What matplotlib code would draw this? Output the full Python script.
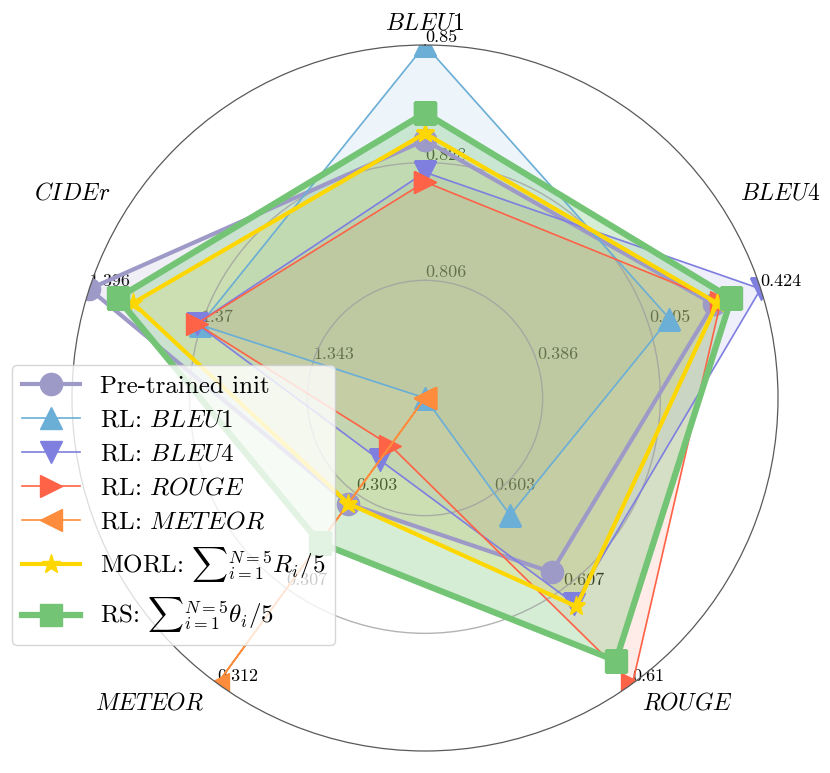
import numpy as np
import matplotlib
matplotlib.use("Agg")
import matplotlib.pyplot as plt

plt.rcParams['font.family'] = 'serif'
plt.rcParams['font.serif'] = ['cmr10']
plt.rcParams['mathtext.fontset'] = 'cm'
plt.rcParams['axes.unicode_minus'] = False
plt.rcParams['axes.formatter.use_mathtext'] = True

# axes of the radar, clockwise from the top
metrics = ["BLEU1", "BLEU4", "ROUGE", "METEOR", "CIDEr"]
axis_min = [0.784, 0.367, 0.600, 0.2982, 1.3168]
axis_max = [0.850, 0.424, 0.610, 0.312, 1.396]

# scores per model
pretrained = [0.8322, 0.4160, 0.6061, 0.3033, 1.396]
rl_bleu1 = [0.850, 0.4085, 0.6041, 0.2982, 1.3699]
rl_bleu4 = [0.8262, 0.424, 0.6072, 0.3012, 1.3707]
rl_rouge = [0.8244, 0.4172, 0.610, 0.3005, 1.3707]
rl_meteor = [0.784, 0.367, 0.600, 0.312, 1.3168]
morl = [0.8335, 0.4166, 0.6073, 0.3033, 1.3857]
rs = [0.8373, 0.4190, 0.6092, 0.3052, 1.3893]

labels = ["Pre-trained init", r"RL: $BLEU1$", r"RL: $BLEU4$", r"RL: $ROUGE$",
          r"RL: $METEOR$", r"MORL: ${\sum}_{i=1}^{N=5} R_i/5$",
          r"RS: ${\sum}_{i=1}^{N=5} \theta_i/5$"]
series = [pretrained, rl_bleu1, rl_bleu4, rl_rouge, rl_meteor, morl, rs]
colors = ["#9e9ac8", "#6baed6", "#7f7fe0", "tomato", "#fd8d3c", "gold", "#74c476"]
markers = ["o", "^", "v", ">", "<", "*", "s"]
widths = [3.0, 1.2, 1.2, 1.2, 1.2, 3.0, 4.5]
msizes = [16, 16, 16, 16, 16, 14, 16]
fill_alpha = [0.15, 0.12, 0.12, 0.12, 0.12, 0.16, 0.3]

n = len(metrics)
angles = np.linspace(0, 2 * np.pi, n, endpoint=False)
lo = np.array(axis_min)
hi = np.array(axis_max)


def norm(v):
    return (np.array(v) - lo) / (hi - lo)


fig = plt.figure(figsize=(8.3, 7.73), dpi=100)
ax = fig.add_axes([72 / 830, 22 / 773, 706 / 830, 706 / 773], projection='polar')
ax.set_theta_offset(np.pi / 2)
ax.set_theta_direction(-1)
ax.set_ylim(0, 1)
ax.set_xticks(angles)
ax.set_xticklabels([])
ax.xaxis.grid(False)
ax.set_yticks([1 / 3, 2 / 3])
ax.set_yticklabels([])
ax.yaxis.grid(True, color='#a0a0a0', linewidth=1.0, alpha=0.8)
ax.spines['polar'].set_color('0.35')
ax.spines['polar'].set_linewidth(0.9)

# per-axis ring values
for i in range(n):
    for k, r in enumerate([1 / 3, 2 / 3, 1.0]):
        v = lo[i] + r * (hi[i] - lo[i])
        s = f"{v:.3f}".rstrip('0')
        ax.text(angles[i], r, s, ha='left', va='bottom', fontsize=13,
                zorder=0.5, clip_on=False)

for vals, lab, c, m, lw, ms, fa in zip(series, labels, colors, markers, widths, msizes, fill_alpha):
    r = norm(vals)
    th = np.append(angles, angles[0])
    rr = np.append(r, r[0])
    ax.fill(th, rr, color=c, alpha=fa, zorder=1)
    ax.plot(th, rr, color=c, linewidth=lw, marker=m, markersize=ms, label=lab, zorder=2)

label_pos = [(0.5, 1.03), (1.003, 0.790), (0.872, 0.068), (0.110, 0.068), (0.0, 0.790)]
for name, (x, y) in zip(metrics, label_pos):
    ax.text(x, y, "$" + name + "$", transform=ax.transAxes, ha='center', va='center',
            fontsize=17)

leg = fig.legend(loc='upper left', bbox_to_anchor=(12 / 830, 1 - 365 / 773),
                 bbox_transform=fig.transFigure, borderaxespad=0, fontsize=18,
                 handlelength=2.3, labelspacing=0.46)
leg.set_zorder(10)

fig.savefig("out.png", dpi=100)
